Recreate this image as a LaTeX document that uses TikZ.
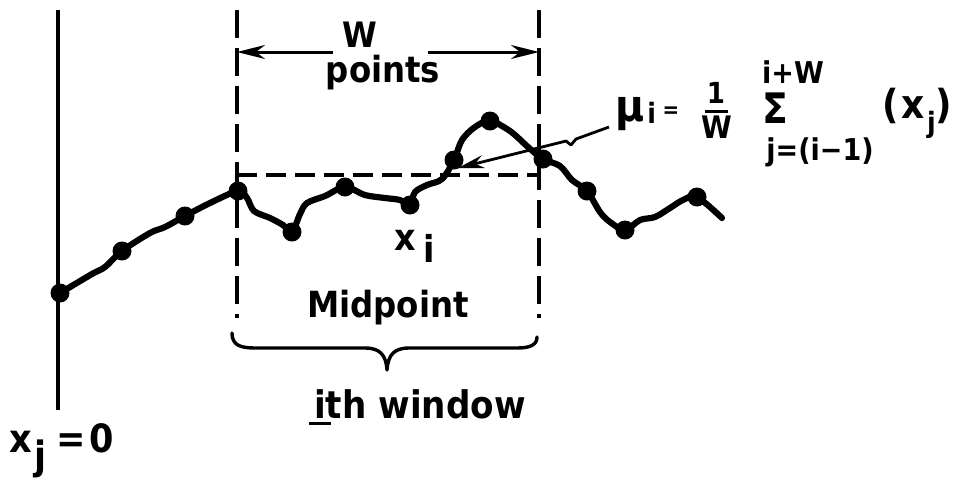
\documentclass[tikz,border=0pt]{standalone}
\usepackage{fontspec}
\setmainfont{DejaVu Sans}[FakeStretch=0.9]
\usetikzlibrary{arrows.meta}
\newcommand{\fs}[1]{\fontsize{#1}{#1}\selectfont\bfseries}
\begin{document}
\begin{tikzpicture}[x=0.5pt,y=-0.5pt,
  dot/.style={circle,fill=black,inner sep=0pt,minimum size=9.5pt},
  curve/.style={line width=3.1pt,line join=round,line cap=round},
  axisline/.style={line width=1.6pt},
  winv/.style={line width=1.7pt,dash pattern=on 14pt off 5pt},
  winh/.style={line width=1.7pt,dash pattern=on 10pt off 4.5pt},
  lbl/.style={inner sep=0pt,anchor=base},
  dimarrow/.style={line width=1.5pt,-{Stealth[length=14pt,width=7pt]}},
  leader/.style={line width=1.4pt,line join=round,-{Stealth[length=13pt,width=6.5pt]}}
]
\useasboundingbox (0,0) rectangle (965,479);

% axis
\coordinate (axT) at (58,10);
\coordinate (axB) at (58,410);
\draw[axisline] (axT) -- (axB);

% window
\coordinate (wLT) at (237,10);
\coordinate (wLB) at (237,318);
\coordinate (wRT) at (539,10);
\coordinate (wRB) at (539,318);
\coordinate (wLM) at (237,175);
\coordinate (wRM) at (539,175);
\draw[winv] (wLT) -- (wLB);
\draw[winv] (wRT) -- (wRB);
\draw[winh] (wLM) -- (wRM);

% dots
\node[dot] (d1) at (60,293) {};
\node[dot] (d2) at (122,251) {};
\node[dot] (d3) at (185,216) {};
\node[dot] (d4) at (238,191) {};
\node[dot] (d5) at (292,232) {};
\node[dot] (d6) at (345,187) {};
\node[dot] (d7) at (410,205) {};
\node[dot] (d8) at (454,160) {};
\node[dot] (d9) at (490,121) {};
\node[dot] (d10) at (543,159) {};
\node[dot] (d11) at (587,191) {};
\node[dot] (d12) at (625,230) {};
\node[dot] (d13) at (697,197) {};
\coordinate (cend) at (722,218);

\draw[curve] plot[smooth,tension=0.55] coordinates {
 (d1.center) (92,274) (105,267) (d2.center) (150,233) (165,227) (d3.center) (210,203)
 (d4.center) (247,198) (254,211) (270,218) (283,225) (d5.center) (300,214) (307,203) (325,196)
 (d6.center) (365,195) (385,198) (400,200) (d7.center) (415,192) (427,185) (442,179)
 (d8.center) (462,140) (475,127) (d9.center) (510,131) (528,147) (d10.center) (560,166) (572,180)
 (d11.center) (600,212) (610,222) (d12.center) (640,220) (655,217) (670,208) (683,200)
 (d13.center) (cend)};

% W points
\node[lbl,font=\fs{17.5}] (W) at (360,47) {W};
\node[lbl,font=\fs{18}] (pts) at (383,82) {points};
\coordinate (aL) at (333,52);
\coordinate (aR) at (428,52);
\draw[dimarrow] (aL) -- (wLM |- aL);
\draw[dimarrow] (aR) -- (wRM |- aR);

% labels
\node[lbl,font=\fs{18.5},anchor=base west] (xi) at (394,250) {x\raisebox{-6pt}{\hspace{4pt}i}};
\node[lbl,font=\fs{18}] (mid) at (388,317) {Midpoint};
\node[lbl,font=\fs{19}] (win) at (420,418) {\rlap{\kern-2.5pt\rule[-3.5pt]{11pt}{1.3pt}}ith window};
\node[lbl,font=\fs{19.5},anchor=base west] (x0) at (9,452) {x\raisebox{-8.5pt}{\hspace{1pt}j}\hspace{5pt}=\hspace{2pt}0};

% brace
\coordinate (bL) at (232,333);
\coordinate (bR) at (537,337);
\coordinate (bT) at (387,370);
\draw[line width=1.7pt,line cap=round,line join=round]
  (bL) .. controls (232,345) and (240,348) .. (255,348) -- (365,348)
  .. controls (380,348) and (386,355) .. (bT)
  .. controls (388,355) and (394,348) .. (409,348) -- (517,348)
  .. controls (530,348) and (537,345) .. (bR);

% formula
\node[lbl,anchor=base west,font=\fs{22}] (mu) at (615,121) {μ};
\node[lbl,anchor=base west,font=\fs{14}] (musub) at (647,123) {i};
\node[inner sep=0pt,font=\fs{11}] (eq) at (671,112) {=};
\node[lbl,font=\fs{14.5}] (one) at (716,103) {1};
\coordinate (fbL) at (705,111);
\coordinate (fbR) at (728,111);
\draw[line width=1.5pt] (fbL) -- (fbR);
\node[lbl,font=\fs{15.5}] (den) at (717,138) {W};
\node[lbl,font=\fs{21}] (sig) at (775,123) {Σ};
\node[lbl,font=\fs{15}] (up) at (793,83) {i+W};
\node[lbl,font=\fs{15}] (low) at (820,160) {j=(i−1)};
\node[lbl,anchor=base west,font=\fs{20}] (xj) at (882,118) {(\hspace{1.5pt}x\hspace{1pt}\raisebox{-7pt}{\fs{14}j})};

% leader
\coordinate (lS) at (609,127);
\coordinate (lT) at (458,168);
\draw[leader] (lS) -- (576,139) -- (571,145) -- (566,141) -- (lT);
\end{tikzpicture}
\end{document}
